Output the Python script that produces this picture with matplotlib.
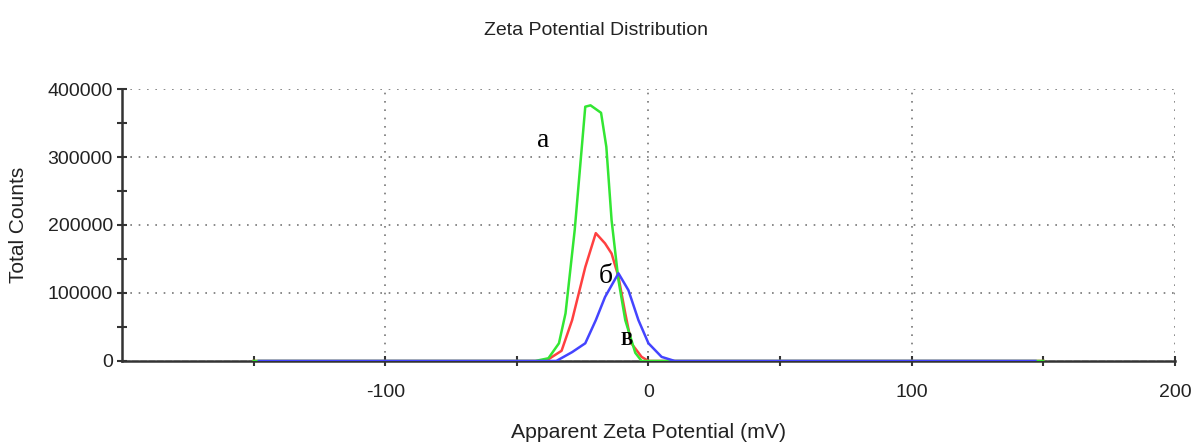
import numpy as np
import matplotlib.pyplot as plt

# apparent zeta potential (mV) and total counts for each sample
x_green = [-150, -43, -38, -34, -31.5, -28, -24, -22, -18, -16, -14, -11.4, -8.8, -5, -2.6, 150]
y_green = [0, 0, 4000, 26000, 70000, 193000, 374000, 376000, 365000, 315000, 207000, 119000, 60000, 12000, 0, 0]

x_red = [-150, -39, -33, -29, -24, -20, -16.5, -14, -11.4, -8.8, -6.5, -2.6, 0, 150]
y_red = [0, 0, 15000, 60000, 138000, 188000, 173000, 158000, 124000, 70000, 26000, 6000, 0, 0]

x_blue = [-148, -35, -29, -24, -20, -16.5, -11.4, -7.6, -3.8, 0, 5, 10, 147]
y_blue = [0, 0, 13000, 26000, 60000, 94000, 129000, 104000, 60000, 26000, 6000, 0, 0]

labels = ['а', 'б', 'В']
label_x = [-42.5, -19, -10.5]
label_y = [314000, 115000, 23000]

plt.rcParams['font.family'] = ['Liberation Sans', 'DejaVu Sans']
plt.rcParams['axes.unicode_minus'] = False

fig = plt.figure(figsize=(11.92, 4.44), dpi=100)
ax = fig.add_axes([0.1023, 0.187, 0.8834, 0.6125])

ax.plot(x_red, y_red, color='#ff4040', lw=1.8)
ax.plot(x_green, y_green, color='#33e633', lw=1.8)
ax.plot(x_blue, y_blue, color='#4444ff', lw=1.8)

ax.text(label_x[0], label_y[0], labels[0], fontsize=20, family='Liberation Serif')
ax.text(label_x[1], label_y[1], labels[1], fontsize=20, family='Liberation Serif')
ax.text(label_x[2], label_y[2], labels[2], fontsize=13, family='Liberation Serif',
        fontweight='bold')

ax.set_xlim(-200, 200)
ax.set_ylim(0, 400000)
ax.set_xticks([-100, 0, 100, 200])
ax.set_xticks([-150, -50, 50, 150], minor=True)
ax.set_yticks([0, 100000, 200000, 300000, 400000])
ax.set_yticks([50000, 150000, 250000, 350000], minor=True)
ax.grid(True, which='major', color='#777777', linestyle=(0, (1, 4)), lw=1.2)

for s in ['top', 'right']:
    ax.spines[s].set_visible(False)
for s in ['left', 'bottom']:
    ax.spines[s].set_color('#333333')
    ax.spines[s].set_linewidth(1.8)
    ax.spines[s].set_zorder(0)

ax.tick_params(which='both', direction='inout', length=7, width=1.5, color='#333333',
               labelsize=14, labelcolor='#222222')
ax.tick_params(axis='x', pad=13)
ax.tick_params(axis='y', pad=3)

ax.set_xlabel('Apparent Zeta Potential (mV)', fontsize=15.3, color='#222222', va='top')
ax.xaxis.set_label_coords(0.5, -0.228)
ax.set_ylabel('Total Counts', fontsize=15, color='#222222')
ax.yaxis.set_label_coords(-0.089, 0.5)
fig.text(0.5, 0.932, 'Zeta Potential Distribution', ha='center', va='center',
         fontsize=14, color='#222222')

fig.savefig('out.png', dpi=100)
